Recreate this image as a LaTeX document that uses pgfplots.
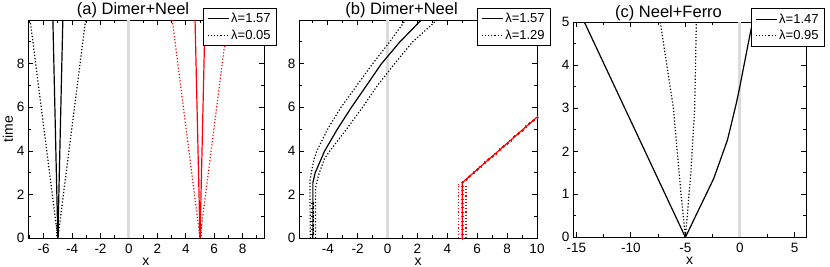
\documentclass[border=0pt]{standalone}
\usepackage{fontspec}
\setmainfont{Liberation Sans}
\usepackage{pgfplots}
\pgfplotsset{compat=1.18}
\definecolor{band}{gray}{0.86}
\pgfplotsset{
  every axis title shift=0pt,
  common/.style={
    scale only axis, anchor=south west,
    axis line style={line width=0.9pt},
    tick align=inside, major tick length=5pt, minor tick length=3pt,
    every tick/.style={black, line width=0.8pt},
    /pgf/number format/assume math mode=true,
    tick label style={font=\fontsize{13.5}{13.5}\selectfont},
    xticklabel style={yshift=-2pt},
    label style={font=\fontsize{14}{14}\selectfont},
    xlabel style={at={(axis description cs:0.5,-0.108)}, anchor=center, inner sep=0pt},
    title style={font=\fontsize{16.5}{16.5}\selectfont, anchor=base},
    legend image code/.code={\draw[#1] (0pt,0pt) -- (21pt,0pt);},
  },
  mylegend/.style={legend style={at={#1}, anchor=north east, draw=black, line width=0.8pt, fill=white, font=\fontsize{13}{13}\selectfont, inner xsep=4pt, inner ysep=3pt, row sep=1.5pt, cells={anchor=west}}},
  solid line/.style={black, line width=1.2pt},
  dot line/.style={black, line width=1.2pt, dash pattern=on 1.2pt off 2pt},
}
\begin{document}
\begin{tikzpicture}
\useasboundingbox (0,0) rectangle (830pt,267pt);
% ---------------- (a)
\begin{axis}[common, at={(28pt,28.7pt)}, width=236pt, height=218.3pt,
  xmin=-7.1, xmax=9.5, ymin=0, ymax=10,
  xtick={-6,-4,...,8}, minor xtick={-7,-5,...,9},
  ytick={0,2,...,8}, minor ytick={1,3,...,9},
  xlabel={x},
  ylabel={time}, ylabel style={at={(axis description cs:-0.085,0.5)}, anchor=center},
  title={(a) Dimer+Neel}, title style={at={(axis description cs:0.445,1.023)}},
  mylegend={(axis description cs:1.055,1.055)},
]
\addplot[band, line width=3pt, forget plot] coordinates {(0,0)(0,10)};
\addplot[solid line] coordinates {(-5.35,10)(-5,0)(-4.65,10)};
\addlegendentry{λ=1.57}
\addplot[dot line] coordinates {(-6.95,10)(-5,0)(-3.05,10)};
\addlegendentry{λ=0.05}
\addplot[solid line, red, forget plot] coordinates {(4.65,10)(5,0)(5.35,10)};
\addplot[dot line, red, forget plot] coordinates {(3.05,10)(5,0)(6.95,10)};
\addplot[only marks, mark=+, mark size=1.5pt, black, forget plot] coordinates {(-5,0.15)(-5,0.3)(-5,0.45)(-5,0.6)};
\addplot[only marks, mark=+, mark size=1.5pt, red, forget plot] coordinates {(5,0.15)(5,0.3)(5,0.45)(5,0.6)};
\end{axis}
% ---------------- (b)
\begin{axis}[common, at={(299pt,28.7pt)}, width=238pt, height=218.3pt,
  xmin=-5.93, xmax=10, ymin=0, ymax=10,
  xtick={-4,-2,...,10}, minor xtick={-5,-3,...,9},
  ytick={0,2,...,8}, minor ytick={1,3,...,9},
  xlabel={x},
  title={(b) Dimer+Neel}, title style={at={(axis description cs:0.431,1.023)}},
  mylegend={(axis description cs:1.059,1.055)},
]
\addplot[band, line width=3pt, forget plot] coordinates {(0,0)(0,10)};
\addplot[solid line] coordinates {(-5,0)(-5,2.55)(-4.85,3.0)(-4.63,3.34)(-4.23,3.98)(-3.38,4.98)(-2.44,5.98)(-1.43,6.98)(-0.43,7.98)(0.80,8.98)(2.25,10)};
\addlegendentry{λ=1.57}
\addplot[dot line] coordinates {(-5.17,0)(-5.2,2.6)(-5.14,2.88)(-4.92,3.64)(-4.75,3.98)(-4.03,4.98)(-3.14,5.98)(-2.08,6.98)(-1.02,7.98)(0.12,8.98)(1.2,10)};
\addlegendentry{λ=1.29}
\addplot[dot line, forget plot] coordinates {(-4.83,0)(-4.83,2.3)(-4.63,2.88)(-4.23,3.64)(-3.89,3.98)(-2.77,4.98)(-1.7,5.98)(-0.7,6.98)(0.45,7.98)(1.65,8.98)(3.3,10)};
\addplot[only marks, mark=+, mark size=1.5pt, black, forget plot] coordinates {(-5,0.2)(-5,0.4)(-5,0.6)(-5,0.8)(-5,1.0)(-5,1.2)(-5,1.4)(-5,1.6)};
\addplot[dot line, red, forget plot] coordinates {(4.75,0)(4.75,2.5)};
\addplot[dot line, red, forget plot] coordinates {(5.25,0)(5.25,2.4)};
\addplot[solid line, red, forget plot, mark=+, mark size=1.5pt, mark options={line width=0.6pt}] coordinates {(5,0)(5,0.2)(5,0.4)(5,0.6)(5,0.8)(5,1.0)(5,1.2)(5,1.4)(5,1.6)(5,1.8)(5,2.0)(5,2.2)(5,2.4)(5,2.55)(5.25,2.70)(5.5,2.85)(5.75,3.00)(6,3.15)(6.25,3.30)(6.5,3.45)(6.75,3.60)(7,3.75)(7.25,3.90)(7.5,4.05)(7.75,4.20)(8,4.35)(8.25,4.50)(8.5,4.65)(8.75,4.80)(9,4.95)(9.25,5.10)(9.5,5.25)(9.75,5.40)(10,5.55)};
\end{axis}
% ---------------- (c)
\begin{axis}[common, at={(573pt,29.7pt)}, width=233pt, height=215pt,
  xmin=-15.3, xmax=6.05, ymin=0, ymax=5,
  xtick={-15,-10,...,5}, minor xtick={-12.5,-7.5,-2.5,2.5},
  ytick={0,1,...,5}, minor ytick={0.5,1.5,...,4.5},
  xlabel={x},
  title={(c) Neel+Ferro}, title style={at={(axis description cs:0.41,1.023)}},
  mylegend={(axis description cs:1.0815,1.065)},
]
\addplot[band, line width=3pt, forget plot] coordinates {(0,0)(0,5)};
\addplot[solid line] coordinates {(-14.25,5)(-5,0)(-2.4,1.37)(-1.15,2.26)(-0.35,3.1)(0,3.52)(0.82,4.59)(1.15,5)};
\addlegendentry{λ=1.47}
\addplot[dot line] coordinates {(-7.3,5)(-6.7,4)(-6.1,3)(-5.75,2)(-5.4,1)(-5,0)(-4.5,1.5)(-4.15,3)(-4.0,5)};
\addlegendentry{λ=0.95}
\end{axis}
\end{tikzpicture}
\end{document}
